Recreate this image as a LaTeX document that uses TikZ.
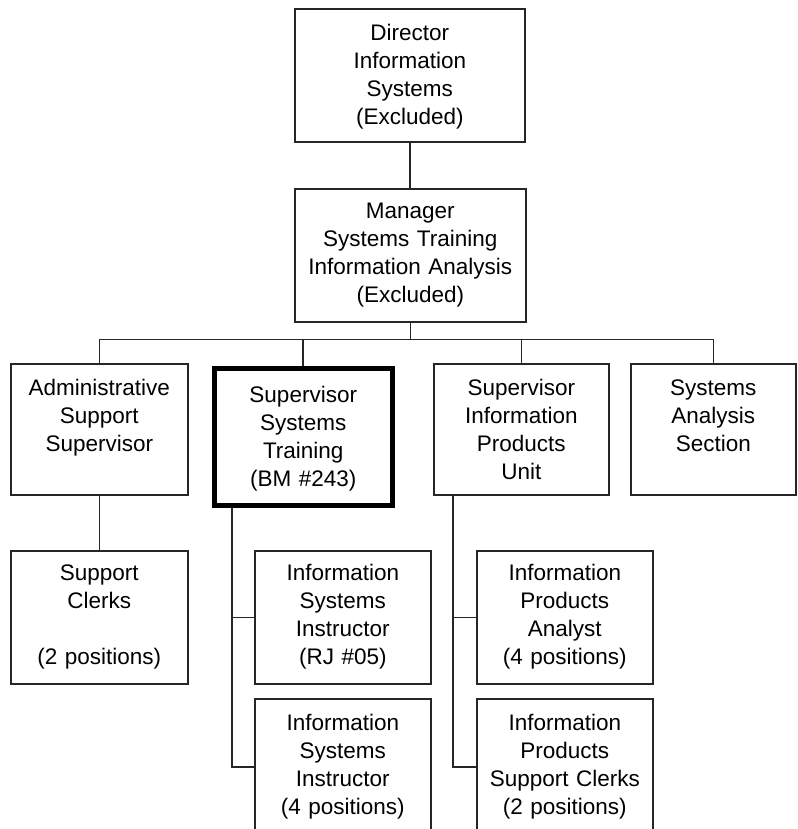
\documentclass[tikz,border=0pt]{standalone}
\usepackage{fontspec}
\setmainfont{Liberation Sans}
\usetikzlibrary{positioning, calc}

\tikzset{
  orgbox/.style={draw=black!85, line width=1.6pt, anchor=north west, align=center,
    inner sep=0pt, text width=#1, text height=32pt, text depth=101pt,
    font=\fontsize{22.5}{28}\selectfont},
  keybox/.style={draw=black, line width=5.5pt},
  orgline/.style={draw=black!85, line width=1.6pt}
}

\begin{document}
\begin{tikzpicture}[x=1pt, y=-1pt]
  \useasboundingbox (0,0) rectangle (797,829);
  \clip (0,0) rectangle (797,829);

  % top of the chart
  \node[orgbox=230pt] (dir) at (294,8) {Director\\Information\\Systems\\(Excluded)};
  \node[orgbox=231pt, text height=30pt, text depth=103pt] (mgr) at (294,188)
    {Manager\\Systems Training\\Information Analysis\\(Excluded)};

  % sections
  \node[orgbox=177pt, text depth=99pt] (admin) at (10,363) {Administrative\\Support\\Supervisor};
  \node[orgbox=178pt, keybox, text height=34.5pt, text depth=102.5pt] (sup) at (211.5,365.5)
    {Supervisor\\Systems\\Training\\(BM \#243)};
  \node[orgbox=175pt, text depth=99pt] (prod) at (433,363) {Supervisor\\Information\\Products\\Unit};
  \node[orgbox=165pt, text depth=99pt] (sys) at (630,363) {Systems\\Analysis\\Section};

  % staff
  \node[orgbox=177pt, text height=30pt, text depth=103pt] (clerks) at (10,550)
    {Support\\Clerks\\[28pt](2 positions)};
  \node[orgbox=176pt, text height=30pt, text depth=103pt] (inst1) at (254,550)
    {Information\\Systems\\Instructor\\(RJ \#05)};
  \node[orgbox=176pt, text depth=104pt] (inst2) at (254,698)
    {Information\\Systems\\Instructor\\(4 positions)};
  \node[orgbox=176pt, text height=30pt, text depth=103pt] (anal) at (476,550)
    {Information\\Products\\Analyst\\(4 positions)};
  \node[orgbox=176pt, text depth=104pt] (pclerk) at (476,698)
    {Information\\Products\\Support Clerks\\(2 positions)};

  % reporting lines
  \coordinate (bus) at (0,339.5);
  \draw[orgline] (dir.south) -- (dir.south |- mgr.north);
  \draw[orgline] (mgr.south) -- (mgr.south |- bus);
  \draw[orgline] (admin.north) -- (admin.north |- bus) -- (sys.north |- bus) -- (sys.north);
  \draw[orgline] (sup.north) -- (sup.north |- bus);
  \draw[orgline] (prod.north) -- (prod.north |- bus);
  \draw[orgline] (admin) -- (clerks);
  \draw[orgline] ([xshift=20.5pt]sup.south west) coordinate (suptrunk) |- (inst2.west);
  \draw[orgline] (inst1.west) -- (inst1.west -| suptrunk);
  \draw[orgline] ([xshift=20pt]prod.south west) coordinate (prodtrunk) |- (pclerk.west);
  \draw[orgline] (anal.west) -- (anal.west -| prodtrunk);
\end{tikzpicture}
\end{document}
